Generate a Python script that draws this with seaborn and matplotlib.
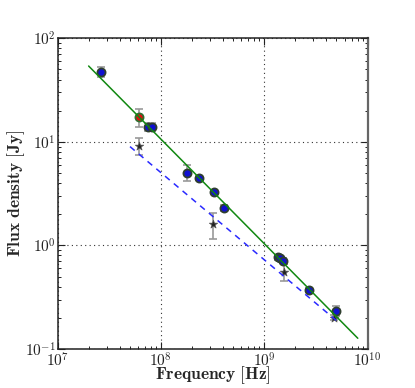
import numpy as np
import pandas as pd
import matplotlib
matplotlib.use("Agg")
import matplotlib.pyplot as plt
from matplotlib.ticker import LogLocator, NullFormatter
import seaborn as sns

# ---- data ----
circ_freq = [2.64e7, 7.47e7, 8.17e7, 1.78e8, 2.34e8, 3.27e8, 4.09e8,
             1.36e9, 1.43e9, 1.51e9, 2.72e9, 4.97e9]
circ_flux = [47.6, 14.0, 14.0, 5.05, 4.46, 3.28, 2.30,
             0.77, 0.75, 0.71, 0.372, 0.233]
circ_err = [5.0, 1.3, 1.3, 0.9, 0.2, 0.15, 0.15,
            0.04, 0.04, 0.04, 0.02, 0.025]

red_freq = [6.15e7]
red_flux = [17.3]
red_err = [3.5]

star_freq = [6.2e7, 3.22e8, 1.56e9, 4.75e9]
star_flux = [9.2, 1.61, 0.558, 0.201]
star_err = [1.8, 0.45, 0.10, 0.012]

fit_freq = [2.0e7, 8.05e9]
fit_flux = [54.0, 0.127]

dash_freq = [5.03e7, 5.1e9]
dash_flux = [9.0, 0.185]

xtick_vals = [1e7, 1e8, 1e9, 1e10]
xtick_labels = [r"$10^{7}$", r"$10^{8}$", r"$10^{9}$", r"$10^{10}$"]
ytick_vals = [1e-1, 1e0, 1e1, 1e2]
ytick_labels = [r"$10^{-1}$", r"$10^{0}$", r"$10^{1}$", r"$10^{2}$"]

# ---- style ----
sns.set_style("ticks")
plt.rcParams["mathtext.fontset"] = "cm"
plt.rcParams["font.family"] = ["DejaVu Serif"]

fig = plt.figure(figsize=(4.15, 3.88), dpi=100)
ax = fig.add_axes([0.1386, 0.1005, 0.747, 0.8008])

circ_df = pd.DataFrame({"freq": circ_freq, "flux": circ_flux})
red_df = pd.DataFrame({"freq": red_freq, "flux": red_flux})
star_df = pd.DataFrame({"freq": star_freq, "flux": star_flux})
fit_df = pd.DataFrame({"freq": fit_freq, "flux": fit_flux})
dash_df = pd.DataFrame({"freq": dash_freq, "flux": dash_flux})

ekw = dict(fmt="none", ecolor="#999999", elinewidth=1.2, capsize=3, capthick=1.2, zorder=2)
ax.errorbar(circ_freq, circ_flux, yerr=circ_err, **ekw)
ax.errorbar(red_freq, red_flux, yerr=red_err, **ekw)
ax.errorbar(star_freq, star_flux, yerr=star_err, **ekw)

sns.scatterplot(data=circ_df, x="freq", y="flux", ax=ax, marker="o", s=34,
                color="#1010d0", edgecolor="#2f3f2f", linewidth=1.3, zorder=3)
sns.scatterplot(data=red_df, x="freq", y="flux", ax=ax, marker="o", s=34,
                color="#e01010", edgecolor="#2f6f2f", linewidth=1.3, zorder=3)
sns.scatterplot(data=star_df, x="freq", y="flux", ax=ax, marker="*", s=40,
                color="#222222", edgecolor="#555555", linewidth=0.5, zorder=3)

sns.lineplot(data=fit_df, x="freq", y="flux", ax=ax, color="#118811", linewidth=1.1, zorder=4)
sns.lineplot(data=dash_df, x="freq", y="flux", ax=ax, color="#2a2aff", linewidth=1.1,
             zorder=4, dashes=False)
ax.lines[-1].set_dashes([4, 3.5])

ax.set_xscale("log")
ax.set_yscale("log")
ax.set_xlim(1e7, 1e10)
ax.set_ylim(1e-1, 1e2)

ax.set_xticks(xtick_vals)
ax.set_xticklabels(xtick_labels, fontsize=11)
ax.set_yticks(ytick_vals)
ax.set_yticklabels(ytick_labels, fontsize=11)
ax.xaxis.set_minor_locator(LogLocator(base=10, subs=np.arange(2, 10)))
ax.yaxis.set_minor_locator(LogLocator(base=10, subs=np.arange(2, 10)))
ax.xaxis.set_minor_formatter(NullFormatter())
ax.yaxis.set_minor_formatter(NullFormatter())

ax.tick_params(which="both", direction="in", top=True, right=True, colors="#222222")
ax.tick_params(which="major", length=5, width=0.8, pad=1.5)
ax.tick_params(which="minor", length=2.5, width=0.7)

ax.grid(True, which="major", linestyle=(0, (1, 3)), color="#333333", linewidth=0.8)
for s in ax.spines.values():
    s.set_color("#222222")
    s.set_linewidth(1.1)
ax.spines["right"].set_color("#666666")
ax.spines["right"].set_linewidth(1.6)

ax.set_xlabel(r"$\mathbf{Frequency\ [Hz]}$", fontsize=12.5)
ax.set_ylabel(r"$\mathbf{Flux\ density\ [Jy]}$", fontsize=12.5)
ax.xaxis.set_label_coords(0.5, -0.05)
ax.yaxis.set_label_coords(-0.098, 0.5)

fig.savefig("out.png", dpi=100)
